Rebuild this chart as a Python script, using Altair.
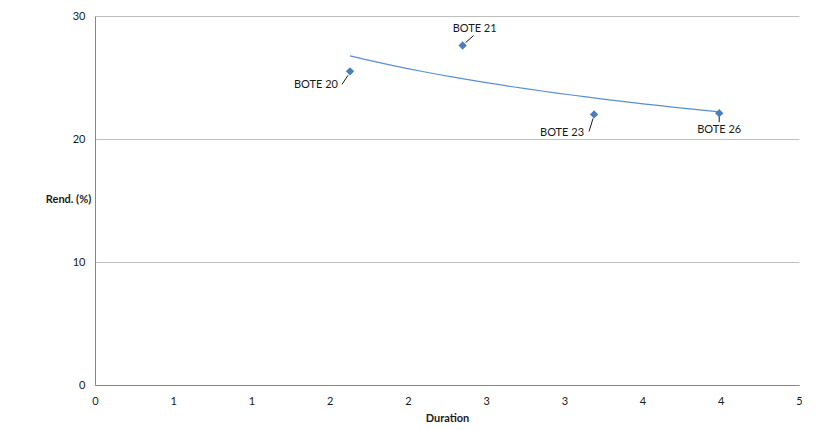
import altair as alt
import pandas as pd

names = ["BOTE 20", "BOTE 21", "BOTE 23", "BOTE 26"]
duration = [1.63, 2.35, 3.19, 3.99]
rend = [25.5, 27.6, 22.0, 22.1]
x_ticks = [0, 0.5, 1, 1.5, 2, 2.5, 3, 3.5, 4, 4.5]
y_ticks = [0, 10, 20, 30]

FONT = "Lato"
W, H = 704, 369
XMAX, YMAX = 4.5, 30
PX_X = XMAX / W
PX_Y = YMAX / H

df = pd.DataFrame({"name": names, "duration": duration, "rend": rend})

xs = alt.Scale(domain=[0, XMAX], nice=False, zero=True)
ys = alt.Scale(domain=[0, YMAX], nice=False)

xaxis = alt.Axis(values=x_ticks, format=".0f", grid=False, ticks=False,
                 domainColor="#868686", labelPadding=10, title="Duration",
                 titleFontWeight="bold", titlePadding=6, labelFlush=False)
yaxis = alt.Axis(values=y_ticks, grid=True, gridColor="#BEBEBE", ticks=False,
                 domainColor="#868686", labelPadding=10, title="Rend. (%)",
                 titleAngle=0, titleAlign="center", titleBaseline="middle",
                 titleX=-27, titleY=183, titleFontWeight="bold")

base = alt.Chart(df)

points = base.mark_point(shape="diamond", filled=True, size=70, color="#4A7EBB",
                         opacity=1).encode(
    x=alt.X("duration:Q", scale=xs, axis=xaxis),
    y=alt.Y("rend:Q", scale=ys, axis=yaxis),
)

trend = base.transform_regression("duration", "rend", method="log").mark_line(
    color="#5A8FD3", strokeWidth=1.2).encode(
    x=alt.X("duration:Q", scale=xs, axis=xaxis),
    y=alt.Y("rend:Q", scale=ys, axis=yaxis),
)


def label(name, align, dx, dy, p1, p2):
    sel = base.transform_filter(alt.datum.name == name)
    txt = sel.mark_text(align=align, baseline="middle", dx=dx, dy=dy, font=FONT,
                        fontSize=11, color="#1a1a1a").encode(
        x=alt.X("duration:Q", scale=xs, axis=xaxis),
        y=alt.Y("rend:Q", scale=ys, axis=yaxis),
        text="name:N",
    )
    rule = sel.transform_calculate(
        ax=f"datum.duration + {p1[0] * PX_X}",
        ay=f"datum.rend - {p1[1] * PX_Y}",
        bx=f"datum.duration + {p2[0] * PX_X}",
        by=f"datum.rend - {p2[1] * PX_Y}",
    ).mark_rule(color="#1a1a1a", strokeWidth=1).encode(
        x=alt.X("ax:Q", scale=xs, axis=xaxis),
        y=alt.Y("ay:Q", scale=ys, axis=yaxis),
        x2="bx:Q",
        y2="by:Q",
    )
    return [rule, txt]


layers = [trend]
layers += label("BOTE 20", "right", -12, 14, (-2, 4), (-8, 13))
layers += label("BOTE 21", "center", 12, -17, (3, -3), (11, -10))
layers += label("BOTE 23", "right", -10, 19, (-1, 4), (-5, 17))
layers += label("BOTE 26", "center", 0, 17, (0, 0), (0, 9))
layers.append(points)

chart = alt.layer(*layers).properties(
    width=W, height=H,
    autosize=alt.AutoSizeParams(type="none"),
    padding={"left": 87, "top": 8, "right": 15, "bottom": 37},
).configure_view(strokeWidth=0).configure_axis(
    labelFont=FONT, titleFont=FONT, labelFontSize=11, titleFontSize=11,
    labelColor="#1a1a1a", titleColor="#1a1a1a",
)

chart.save("out.html", embed_options={"renderer": "svg", "actions": False})
